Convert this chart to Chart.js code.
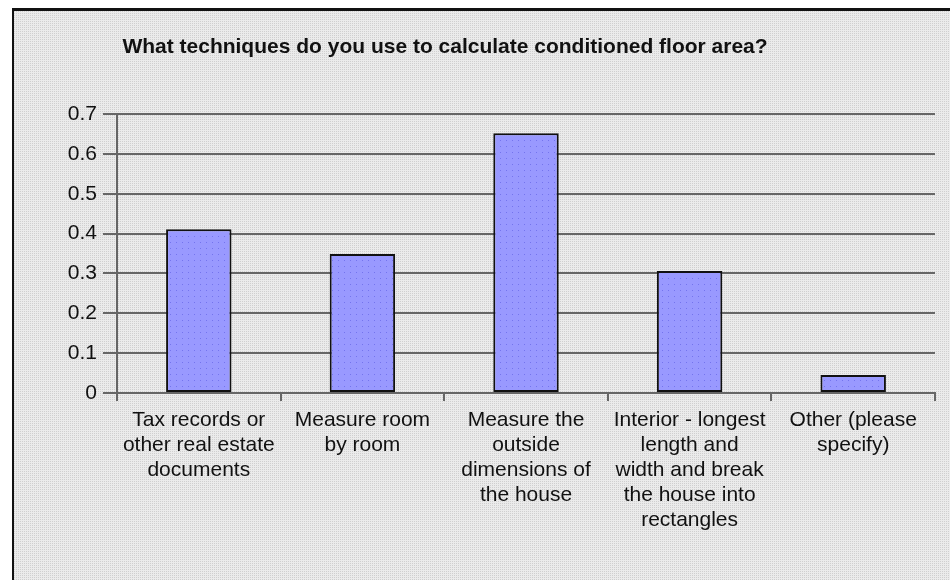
<!DOCTYPE html>
<html>
<head>
<meta charset="utf-8">
<script src="https://cdn.jsdelivr.net/npm/chart.js@4.4.1/dist/chart.umd.min.js"></script>
<style>
  html, body { margin: 0; padding: 0; background: #fff; }
  #frame {
    position: absolute; left: 12px; top: 8px; width: 960px; height: 600px;
    border-left: 2px solid #111; border-top: 3px solid #111;
    box-sizing: border-box;
  }
  #wrap { position: absolute; left: 0; top: 0; width: 950px; height: 580px; }
</style>
</head>
<body>
<div id="frame"></div>
<div id="wrap"><canvas id="chart" width="950" height="580"></canvas></div>
<script>
const categories = [
  ['Tax records or', 'other real estate', 'documents'],
  ['Measure room', 'by room'],
  ['Measure the', 'outside', 'dimensions of', 'the house'],
  ['Interior - longest', 'length and', 'width and break', 'the house into', 'rectangles'],
  ['Other (please', 'specify)']
];
const shares = [0.411, 0.349, 0.652, 0.306, 0.045];
const yTickLabels = ['0', '0.1', '0.2', '0.3', '0.4', '0.5', '0.6', '0.7'];
const chartTitle = 'What techniques do you use to calculate conditioned floor area?';

// grey textured background like the old spreadsheet export
function makeTile(size, base, dots) {
  const c = document.createElement('canvas');
  c.width = c.height = size;
  const g = c.getContext('2d');
  g.fillStyle = base;
  g.fillRect(0, 0, size, size);
  g.fillStyle = dots.color;
  dots.at.forEach(([x, y]) => g.fillRect(x, y, 1, 1));
  return c;
}
const bgTile = makeTile(4, '#ebebeb', { color: '#cfcfcf', at: [[0, 0], [2, 2], [2, 0], [0, 2]] });
document.getElementById('frame').style.background = `url(${bgTile.toDataURL()})`;

const ctx = document.getElementById('chart').getContext('2d');
const barTile = makeTile(6, '#9999ff', { color: '#7474ee', at: [[2, 2]] });
const barPattern = ctx.createPattern(barTile, 'repeat');

const font = '"Liberation Sans", Arial, sans-serif';

const titlePlugin = {
  id: 'sheetTitle',
  afterDraw(chart) {
    const c = chart.ctx;
    c.save();
    c.font = 'bold 21px ' + font;
    c.fillStyle = '#111';
    c.textAlign = 'center';
    c.textBaseline = 'middle';
    c.fillText(chartTitle, 445, 47);
    c.restore();
  }
};

new Chart(ctx, {
  type: 'bar',
  data: {
    labels: categories,
    datasets: [{
      data: shares,
      backgroundColor: barPattern,
      borderColor: '#111',
      borderWidth: 2,
      borderSkipped: false,
      categoryPercentage: 0.8,
      barPercentage: 0.5
    }]
  },
  options: {
    responsive: false,
    animation: false,
    layout: { padding: { left: 0, right: 15, top: 114, bottom: 0 } },
    plugins: { legend: { display: false }, tooltip: { enabled: false } },
    scales: {
      x: {
        afterFit: s => { s.height = 187; },
        grid: { offset: true, drawOnChartArea: false, tickLength: 8, color: '#666', lineWidth: 2 },
        border: { color: '#666', width: 2 },
        ticks: {
          color: '#111', padding: 7, maxRotation: 0, autoSkip: false,
          font: { family: font, size: 21, lineHeight: 1.19 }
        }
      },
      y: {
        min: 0, max: 0.7,
        afterFit: s => { s.width = 117; },
        grid: { color: '#666', lineWidth: 2, tickLength: 14 },
        border: { color: '#666', width: 2 },
        ticks: {
          stepSize: 0.1, color: '#111', padding: 6,
          font: { family: font, size: 21 },
          callback: (v, i) => yTickLabels[i]
        }
      }
    }
  },
  plugins: [titlePlugin]
});
</script>
</body>
</html>
